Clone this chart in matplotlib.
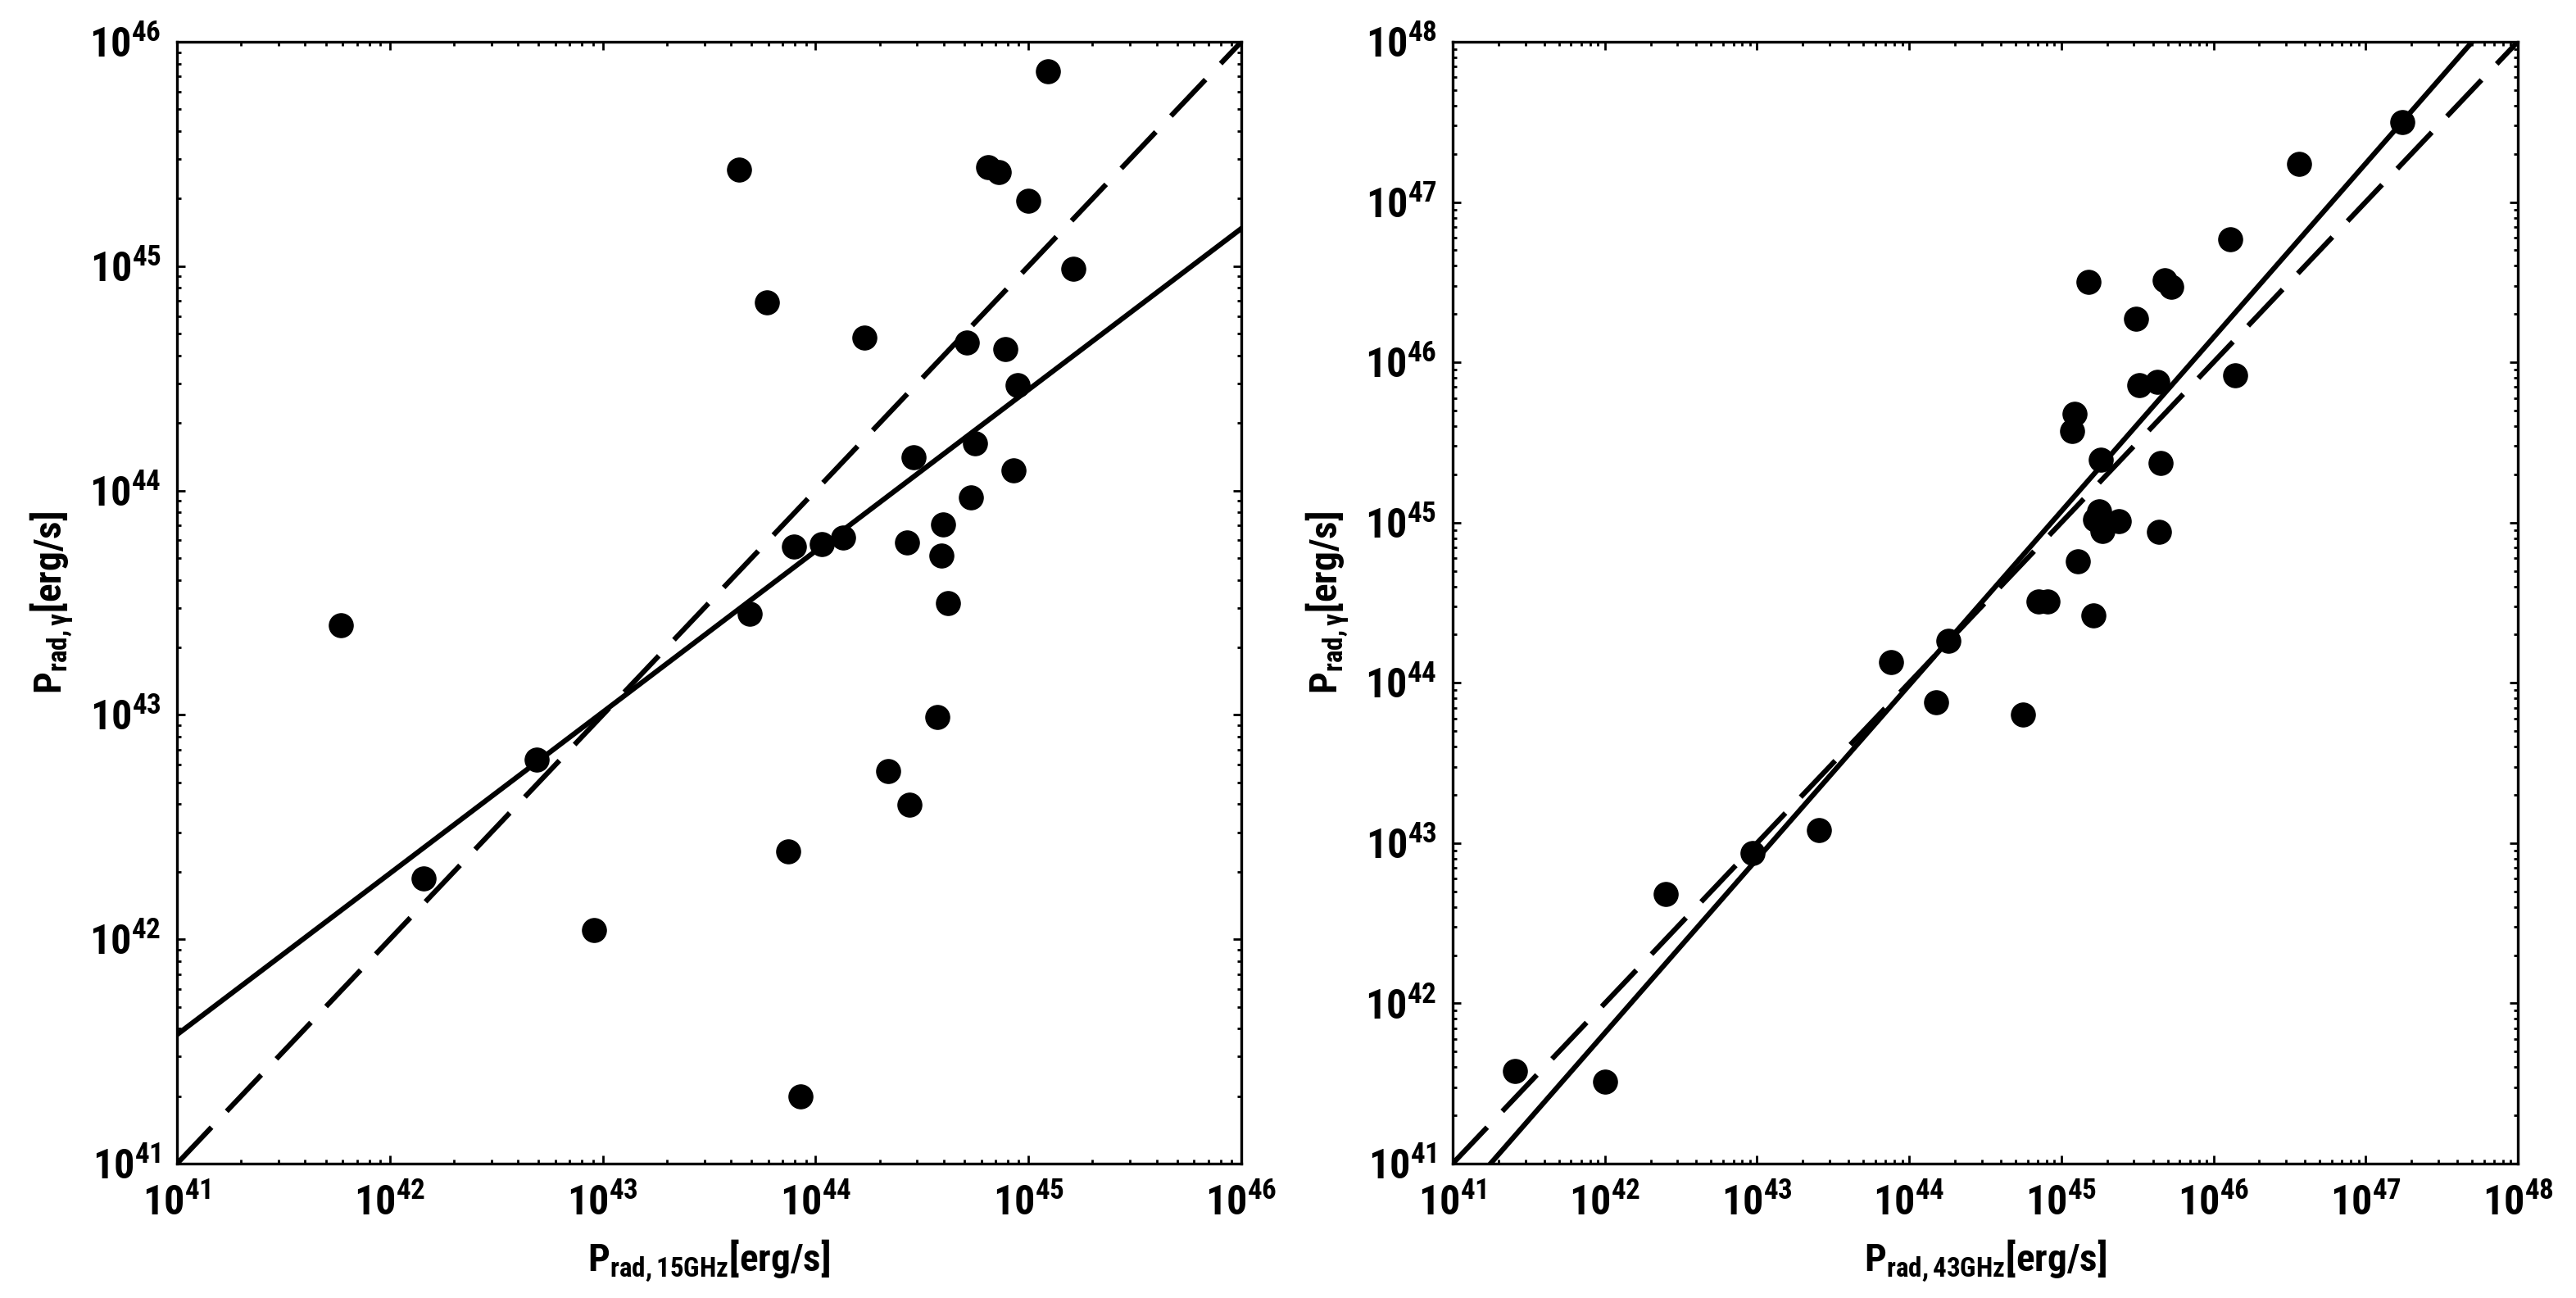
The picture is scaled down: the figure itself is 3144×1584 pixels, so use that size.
import numpy as np
import matplotlib
matplotlib.use("Agg")
import matplotlib.pyplot as plt
from matplotlib import font_manager
from matplotlib.ticker import LogLocator, LogFormatterMathtext, NullFormatter

# ---- 数据（从图中读取的对数值） ----
# 左图：15 GHz
log_x15 = [45.09, 43.64, 44.81, 44.86, 45.00, 45.21, 43.77, 44.23, 44.71, 44.89,
           44.95, 44.75, 44.46, 44.93, 44.73, 44.60, 44.43, 44.59, 43.90, 44.03,
           44.13, 44.62, 43.69, 41.77, 44.57, 42.69, 44.34, 44.44, 43.87, 42.16,
           42.96, 43.93]
log_y15 = [45.87, 45.43, 45.44, 45.42, 45.29, 44.99, 44.84, 44.68, 44.66, 44.63,
           44.47, 44.21, 44.15, 44.09, 43.97, 43.85, 43.77, 43.71, 43.75, 43.76,
           43.79, 43.50, 43.45, 43.40, 42.99, 42.80, 42.75, 42.60, 42.39, 42.27,
           42.04, 41.30]

# 右图：43 GHz
log_x43 = [47.24, 46.56, 46.11, 45.18, 45.68, 45.72, 45.49, 45.51, 45.63, 46.14,
           45.09, 45.07, 45.26, 45.65, 45.25, 45.22, 45.38, 45.27, 45.64, 45.11,
           44.85, 44.91, 45.21, 44.26, 43.88, 44.18, 44.75, 43.41, 42.97, 42.40,
           41.41, 42.00]
log_y43 = [47.50, 47.24, 46.77, 46.50, 46.51, 46.47, 46.27, 45.86, 45.88, 45.92,
           45.68, 45.57, 45.39, 45.37, 45.07, 45.02, 45.01, 44.95, 44.94, 44.76,
           44.51, 44.51, 44.42, 44.26, 44.13, 43.88, 43.80, 43.08, 42.94, 42.68,
           41.58, 41.51]

# 拟合线：log y = a + b * (log x - 41)
fit15 = (41.575, 0.7186)
fit43 = (40.73, 1.085)
equal_line = (41.0, 1.0)

x15_range = (41, 46)
x43_range = (41, 48)
xlabel15 = r'$\mathbf{P_{rad,15GHz}[erg/s]}$'
xlabel43 = r'$\mathbf{P_{rad,43GHz}[erg/s]}$'
ylabel = r'$\mathbf{P_{rad,\gamma}[erg/s]}$'

# ---- 字体（优先窄体粗体） ----
names = {f.name for f in font_manager.fontManager.ttflist}
narrow = ['Liberation Sans Narrow', 'Roboto Condensed', 'Archivo Narrow',
          'PT Sans Narrow', 'Open Sans Condensed']
fam = next((n for n in narrow if n in names), 'Liberation Sans')
is_narrow = fam != 'Liberation Sans'
tick_fs = 36 if is_narrow else 32
label_fs = 34 if is_narrow else 30

plt.rcParams['font.family'] = [fam, 'DejaVu Sans']
plt.rcParams['font.weight'] = 'bold'
plt.rcParams['mathtext.fontset'] = 'custom'
plt.rcParams['mathtext.rm'] = f'{fam}:bold'
plt.rcParams['mathtext.bf'] = f'{fam}:bold'
plt.rcParams['mathtext.it'] = f'{fam}:bold'
plt.rcParams['mathtext.default'] = 'bf'

fig = plt.figure(figsize=(31.44, 15.84), dpi=100)
ax1 = fig.add_axes([0.0687, 0.1035, 0.4132, 0.8643])
ax2 = fig.add_axes([0.5639, 0.1035, 0.4135, 0.8643])


def style_axis(ax, lo, hi):
    ax.set_xscale('log')
    ax.set_yscale('log')
    ax.set_xlim(10.0 ** lo, 10.0 ** hi)
    ax.set_ylim(10.0 ** lo, 10.0 ** hi)
    for a in (ax.xaxis, ax.yaxis):
        a.set_major_locator(LogLocator(base=10, numticks=20))
        a.set_minor_locator(LogLocator(base=10, subs=np.arange(2, 10), numticks=20))
        a.set_major_formatter(LogFormatterMathtext())
        a.set_minor_formatter(NullFormatter())
    ax.tick_params(which='both', direction='in', top=True, right=True,
                   labelsize=tick_fs, width=2.0)
    ax.tick_params(axis='x', which='both', pad=18)
    ax.tick_params(axis='y', which='both', pad=14)
    ax.tick_params(which='major', length=7)
    ax.tick_params(which='minor', length=3.5)
    for spine in ax.spines.values():
        spine.set_linewidth(2.4)
        spine.set_color('black')


def draw_line(ax, fit, lo, hi, **kw):
    lx = np.array([lo, hi], dtype=float)
    ly = fit[0] + fit[1] * (lx - 41)
    ax.plot(10 ** lx, 10 ** ly, color='black', **kw)


dash = (0, (9.8, 4.3))

# 左图
style_axis(ax1, *x15_range)
draw_line(ax1, fit15, *x15_range, lw=4.5)
draw_line(ax1, equal_line, *x15_range, lw=4.5, linestyle=dash)
ax1.plot(10 ** np.array(log_x15), 10 ** np.array(log_y15), 'o', color='black',
         markersize=21, clip_on=False, zorder=3)
ax1.set_xlabel(xlabel15, fontsize=label_fs, labelpad=12)
ax1.set_ylabel(ylabel, fontsize=label_fs, labelpad=12)

# 右图
style_axis(ax2, *x43_range)
draw_line(ax2, fit43, *x43_range, lw=4.5)
draw_line(ax2, equal_line, *x43_range, lw=4.5, linestyle=dash)
ax2.plot(10 ** np.array(log_x43), 10 ** np.array(log_y43), 'o', color='black',
         markersize=21, clip_on=False, zorder=3)
ax2.set_xlabel(xlabel43, fontsize=label_fs, labelpad=12)
ax2.set_ylabel(ylabel, fontsize=label_fs, labelpad=12)

fig.savefig('out.png', dpi=100)
